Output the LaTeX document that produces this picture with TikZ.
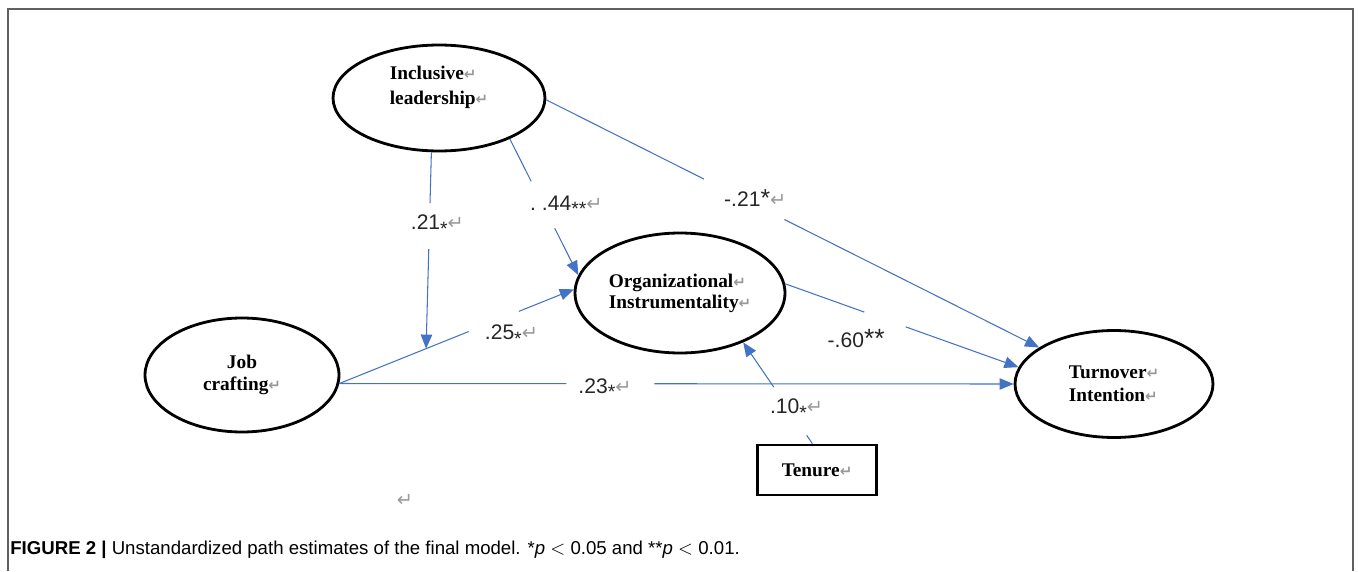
\documentclass[tikz,border=0pt]{standalone}
\usepackage{fontspec}
\setmainfont{Liberation Serif}
\setsansfont{Liberation Sans}
\newfontfamily\retfont{DejaVu Sans}
\usetikzlibrary{arrows.meta,shapes.geometric,positioning}
\definecolor{pathblue}{HTML}{4472C4}
\definecolor{framegray}{HTML}{606060}
\newcommand{\crmark}[1][8.5]{{\retfont\fontsize{#1}{#1}\selectfont\color{gray!80}↵}}
\newcommand{\smst}{\raisebox{-0.5ex}{\fontsize{11}{11}\selectfont *}}

\begin{document}
\begin{tikzpicture}[
    x=0.02cm, y=-0.02cm,
    latent/.style={draw, ellipse, line width=1.6pt, inner sep=0pt, align=left, font=\fontsize{11}{13}\selectfont\bfseries},
    observed/.style={draw, rectangle, line width=1.6pt, minimum width=2.38cm, minimum height=1cm, font=\fontsize{11}{13}\selectfont\bfseries},
    path/.style={draw=pathblue, line width=0.6pt, -{Triangle[length=8pt,width=6.5pt]}},
    est/.style={font=\sffamily\fontsize{12}{14}\selectfont, text=black!85, inner sep=1pt},
]
\useasboundingbox (0,0) rectangle (1358,571);

% Frame
\draw[framegray, line width=1.1pt] (8,571) -- (8,9) -- (1353,9) -- (1353,571);

% Nodes
\node[latent, minimum width=4.24cm, minimum height=2.12cm, text depth=0.5cm, font=\fontsize{11}{14}\selectfont\bfseries] (incl) at (439,98) {Inclusive\crmark\\leadership\crmark};
\node[latent, minimum width=4.2cm, minimum height=2.4cm, font=\fontsize{11}{12}\selectfont\bfseries] (orgi) at (680,293) {Organizational\crmark\\Instrumentality\crmark};
\node[latent, align=center, minimum width=3.88cm, minimum height=2.28cm] (jobc) at (242,375) {Job\\crafting\crmark};
\node[latent, minimum width=3.96cm, minimum height=2.14cm] (turn) at (1114,384) {Turnover\crmark\\Intention\crmark};
\node[observed] (tenure) at (817,470) {Tenure\crmark};

% where the leadership path meets the crafting path
\path (jobc.-5) -- (orgi.178) coordinate[pos=0.37] (meet);

% Paths with estimates as labels
\draw[path, dash pattern=on 0.2cm off 1.17cm on 20cm] (tenure.100) -- (orgi.-38) node[est, pos=0.343, xshift=0.16cm] {.10\smst\crmark[11]};
\draw[path, dash pattern=on 1.02cm off 0.92cm on 20cm] (incl.-98) -- (meet) node[est, pos=0.37, xshift=0.16cm] {.21\smst\crmark[11]};
\draw[path, dash pattern=on 0.95cm off 1.05cm on 20cm] (incl.-30) -- (orgi.170) node[est, pos=0.49, xshift=0.46cm] {.\ .44\smst\smst\crmark[11]};
\draw[path, dash pattern=on 3.53cm off 1.8cm on 30cm] (incl.-1) -- (turn.154) node[est, pos=0.424, yshift=0.14cm] {-.21{\fontsize{14}{14}\selectfont *}\crmark[11]};
\draw[path, dash pattern=on 2.79cm off 1.08cm on 20cm] (jobc.-5) -- (orgi.178) node[est, pos=0.734, yshift=-0.42cm] {.25\smst\crmark[11]};
\draw[path, dash pattern=on 4.54cm off 1.76cm on 30cm] (jobc.-5) -- (turn.west) node[est, pos=0.394, yshift=-0.1cm] {.23\smst\crmark[11]};
\draw[path, dash pattern=on 1.68cm off 0.88cm on 20cm] (orgi.5) -- (turn.170) node[est, pos=0.304, yshift=-0.59cm] {-.60{\fontsize{15}{15}\selectfont **}};

% stray mark and caption
\node (stray) at (405,500) {\crmark[11]};
\node[anchor=west, inner sep=0pt, font=\sffamily\fontsize{10.6}{12}\selectfont] (caption) at (10,550)
  {\textbf{FIGURE 2 |} Unstandardized path estimates of the final model. *\textit{p} $<$ 0.05 and **\textit{p} $<$ 0.01.};
\end{tikzpicture}
\end{document}
